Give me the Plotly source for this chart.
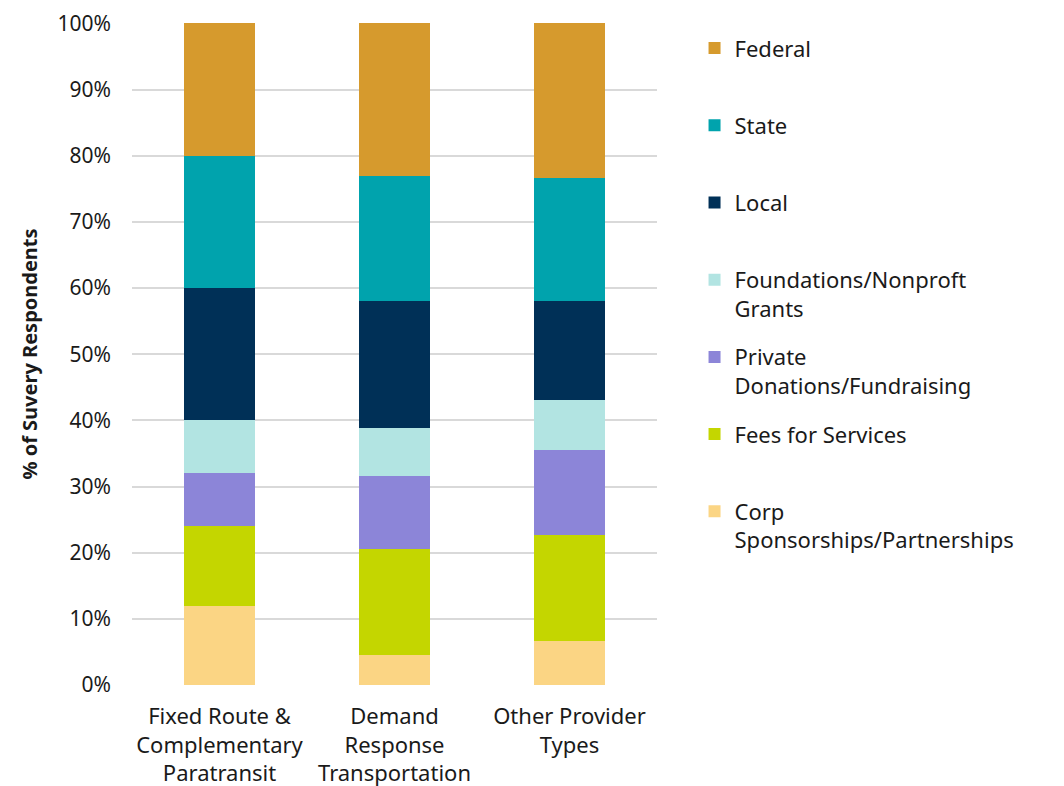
import plotly.graph_objects as go

categories = ["Fixed Route &<br>Complementary<br>Paratransit",
              "Demand<br>Response<br>Transportation",
              "Other Provider<br>Types"]

# bottom to top
series_names = ["Corp<br>Sponsorships/Partnerships",
                "Fees for Services<br> ",
                "Private<br>Donations/Fundraising",
                "Foundations/Nonproft<br>Grants",
                "Local<br> ",
                "State<br> ",
                "Federal<br> "]
corp = [12.0, 4.5, 6.7]
fees = [12.0, 16.0, 15.9]
private = [8.0, 11.1, 12.9]
foundations = [8.0, 7.2, 7.5]
local = [20.0, 19.2, 15.0]
state = [20.0, 18.9, 18.6]
federal = [20.0, 23.1, 23.4]
series_values = [corp, fees, private, foundations, local, state, federal]
colors = ["#FBD584", "#C4D600", "#8C85D8", "#B2E4E2", "#003057", "#00A3AD", "#D69A2D"]

y_ticks = list(range(0, 101, 10))
y_labels = [f"{t}%" for t in y_ticks]

FONT = "Noto Sans"
TXT = "#1a1a1a"

fig = go.Figure()
n = len(series_names)
for i, (name, vals, col) in enumerate(zip(series_names, series_values, colors)):
    fig.add_trace(go.Bar(x=categories, y=vals, name=name, marker_color=col,
                         marker_line_width=0, legendgroup=name,
                         legendrank=n - i))

fig.update_layout(
    barmode="stack",
    width=1056, height=778,
    margin=dict(l=124, r=407, t=15, b=101),
    paper_bgcolor="white", plot_bgcolor="white",
    bargap=0.59,
    font=dict(family=FONT, size=21, color=TXT),
    legend=dict(traceorder="grouped", tracegroupgap=17,
                x=1.0715, xanchor="left", y=0.9935, yanchor="top",
                valign="top", font=dict(size=22, color=TXT),
                itemwidth=30),
    showlegend=True,
)
fig.update_xaxes(showgrid=False, showline=False, ticks="", automargin=False,
                 tickfont=dict(size=22, color=TXT), ticklabelstandoff=16)
fig.update_yaxes(range=[0, 100.05], tickvals=y_ticks, ticktext=y_labels,
                 showgrid=True, gridcolor="#d9d9d9", gridwidth=1.5,
                 zeroline=False, showline=False, ticks="", automargin=False,
                 tickfont=dict(size=21, color=TXT), ticklabelstandoff=20,
                 title=dict(text="<b>% of Suvery Respondents</b>",
                            font=dict(size=20, color=TXT), standoff=14))

fig.write_html("out.html")
